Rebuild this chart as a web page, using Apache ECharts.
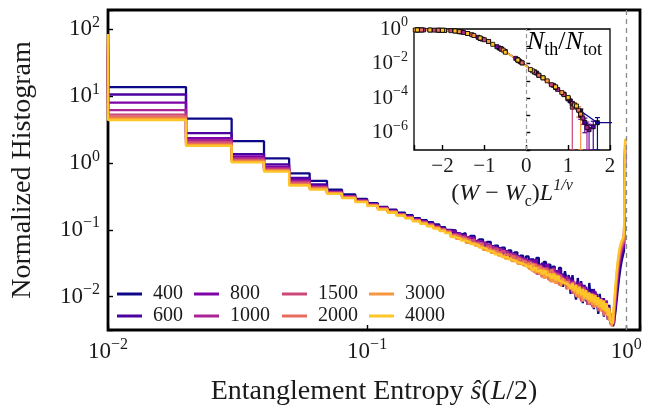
<!DOCTYPE html>
<html>
<head>
<meta charset="utf-8">
<script src="https://cdn.jsdelivr.net/npm/echarts@6/dist/echarts.min.js"></script>
<style>html,body{margin:0;background:#fff}#chart{width:655px;height:411px}</style>
</head>
<body>
<div id="chart"></div>
<script>
// 主图：纠缠熵归一化直方图（100 个等宽 bin，log-log），插图：N_th/N_tot 标度塌缩
const SIZES = ['400', '600', '800', '1000', '1500', '2000', '3000', '4000'];
const COLORS = ['#0d0887', '#4c02a1', '#7e03a8', '#a92395', '#cc4778', '#e66c5c', '#f89540', '#fdc527'];

// bin 右边界 0.01 ... 1.00
const BIN_RIGHT = Array.from({ length: 100 }, (_, i) => (i + 1) / 100);

const H400 = [40, 13.7, 4.6, 2.12, 1.17, 0.70, 0.54,
  .40, .34, .29, .25, .22, .20, .18, .165, .15, .14, .13, .12, .11, .10,
  .098, .084, .089, .074, .081, .066, .072, .060, .066, .052, .058, .049, .054, .044, .049, .039, .046, .036, .041, .033,
  .040, .027, .036, .024, .038, .026, .022, .033, .021, .030, .018, .028, .024, .016, .027, .019, .014, .024, .017, .021,
  .011, .021, .013, .009, .019, .012, .017, .008, .015, .011, .0075, .016, .009, .013, .0065, .012, .0085, .0055, .011, .007, .0095, .005, .0085, .0065, .0045, .0075, .004, .0045,
  .0036, .0045, .0062, .0095, .014, .02, .027, .034, .041, .048, 1.2];
const H600 = [45, 10.6, 2.8, 1.36, 0.95, 0.60, 0.48,
  .38, .32, .28, .245, .215, .195, .175, .16, .145, .135, .125, .115, .105, .098,
  .090, .088, .075, .079, .066, .070, .057, .064, .052, .057, .047, .053, .043, .048, .039, .044, .035, .040, .032, .037,
  .029, .036, .025, .033, .030, .022, .031, .020, .028, .024, .017, .027, .021, .019, .025, .015, .022, .018, .014, .020,
  .018, .012, .016, .010, .017, .013, .009, .015, .011, .014, .008, .012, .010, .0075, .013, .0085, .011, .0065, .0095, .0075, .006, .0095, .0055, .008, .005, .0065, .0048, .0042,
  .0038, .005, .0075, .012, .018, .026, .034, .042, .049, .056, 1.4];
const H800 = [55, 8.0, 2.35, 1.25, 0.88, 0.56, 0.45,
  .37, .32, .275, .24, .215, .19, .172, .158, .143, .133, .123, .113, .104, .097,
  .094, .080, .084, .070, .076, .062, .067, .055, .060, .050, .054, .045, .050, .041, .045, .038, .041, .034, .038, .031,
  .034, .030, .027, .035, .023, .029, .026, .021, .030, .019, .025, .022, .017, .024, .020, .016, .021, .018, .013, .019,
  .015, .018, .011, .016, .013, .010, .016, .011, .014, .0085, .013, .0105, .0075, .012, .009, .0115, .007, .01, .0085, .0065, .0095, .0072, .0058, .0088, .0055, .0068, .005, .0045,
  .004, .0055, .0085, .014, .021, .03, .038, .046, .053, .06, 1.6];
const H1000 = [62, 6.2, 2.2, 1.18, 0.84, 0.53, 0.44,
  .365, .315, .27, .238, .21, .19, .17, .155, .142, .131, .121, .111, .103, .096,
  .086, .085, .074, .076, .064, .068, .056, .062, .050, .055, .046, .051, .042, .047, .038, .043, .035, .039, .031, .036,
  .030, .034, .026, .031, .022, .029, .025, .020, .027, .023, .018, .026, .019, .022, .016, .021, .018, .015, .020, .016,
  .013, .017, .012, .015, .010, .016, .012, .0095, .014, .0105, .012, .008, .011, .0095, .0072, .011, .0085, .0095, .0065, .009, .007, .0058, .0085, .006, .0068, .0048, .0055, .0042,
  .004, .006, .0095, .016, .024, .033, .042, .05, .057, .064, 1.8];
const H1500 = [68, 5.3, 2.05, 1.12, 0.80, 0.51, 0.43,
  .36, .31, .27, .235, .21, .188, .17, .155, .14, .13, .12, .11, .102, .095,
  .084, .080, .078, .068, .072, .060, .064, .053, .058, .048, .052, .044, .048, .040, .043, .036, .040, .033, .036, .030,
  .033, .027, .031, .024, .029, .022, .027, .020, .026, .019, .024, .018, .022, .016, .021, .015, .019, .016, .013, .018,
  .014, .011, .017, .010, .015, .012, .0085, .014, .010, .012, .0075, .011, .0095, .007, .011, .008, .0095, .006, .0088, .0068, .0085, .0055, .0078, .006, .0045, .0065, .0038, .0052,
  .0042, .0065, .011, .018, .027, .037, .046, .054, .061, .068, 1.9];
const H2000 = [74, 4.9, 1.95, 1.08, 0.78, 0.49, 0.42,
  .355, .305, .265, .232, .205, .185, .167, .152, .138, .127, .117, .108, .1, .093,
  .083, .078, .074, .070, .064, .062, .058, .054, .052, .049, .047, .045, .040, .043, .037, .040, .034, .037, .031, .034,
  .029, .032, .025, .030, .023, .028, .020, .026, .022, .018, .025, .017, .021, .019, .015, .020, .016, .018, .013, .017,
  .013, .016, .011, .015, .0095, .014, .011, .0085, .013, .0095, .011, .0075, .010, .0088, .0068, .0098, .0078, .0088, .0062, .0082, .0068, .0052, .0078, .0058, .0065, .0045, .0042, .0036,
  .0045, .007, .012, .02, .03, .04, .05, .058, .065, .072, 2.0];
const H3000 = [80, 4.6, 1.85, 1.05, 0.76, 0.47, 0.41,
  .35, .30, .262, .23, .203, .183, .165, .15, .136, .125, .115, .106, .098, .091,
  .080, .073, .072, .064, .063, .058, .055, .050, .050, .045, .045, .041, .041, .037, .038, .034, .035, .031, .033, .029,
  .031, .026, .030, .023, .027, .022, .025, .019, .024, .020, .017, .022, .016, .020, .018, .014, .019, .015, .017, .013,
  .015, .012, .014, .010, .013, .0095, .013, .0085, .012, .009, .0105, .008, .011, .0075, .0095, .007, .0092, .0068, .0088, .006, .0082, .0062, .0075, .0052, .0068, .0045, .0055, .0036,
  .005, .008, .014, .023, .034, .045, .055, .063, .07, .077, 2.1];
const H4000 = [85, 4.4, 1.80, 1.02, 0.74, 0.46, 0.40,
  .345, .298, .26, .228, .2, .18, .163, .148, .134, .123, .113, .104, .096, .089,
  .078, .074, .069, .066, .061, .059, .054, .052, .048, .047, .043, .043, .039, .039, .036, .035, .033, .032, .031, .030,
  .028, .029, .025, .027, .024, .025, .022, .024, .021, .022, .019, .021, .018, .020, .017, .018, .016, .017, .015, .016,
  .013, .016, .012, .015, .011, .014, .0105, .013, .0095, .0125, .009, .0115, .0085, .011, .008, .0105, .0075, .0098, .007, .0092, .0065, .0088, .006, .008, .0052, .0068, .0042, .0040,
  .0055, .009, .016, .026, .038, .05, .06, .068, .075, .082, 2.25];
const HIST = [H400, H600, H800, H1000, H1500, H2000, H3000, H4000];

// 插图：标度变量 (W-Wc)L^{1/ν}、N_th/N_tot 及误差
const INSET_X = [
  [-2.6, -2.1, -1.6, -1.1, -0.6, -0.1, 0.4, 0.9, 1.3, 1.7, 2.4],
  [-2.5, -2.0, -1.55, -1.1, -0.65, -0.2, 0.25, 0.7, 1.05, 1.4, 1.6],
  [-2.55, -2.05, -1.6, -1.15, -0.7, -0.25, 0.2, 0.65, 1.0, 1.3, 1.5],
  [-2.45, -1.95, -1.5, -1.05, -0.6, -0.15, 0.3, 0.75, 1.1, 1.35, 1.45],
  [-2.6, -2.2, -1.8, -1.4, -1.0, -0.6, -0.2, 0.2, 0.6, 0.9, 1.1],
  [-2.5, -2.1, -1.7, -1.3, -0.9, -0.5, -0.1, 0.3, 0.7, 1.0, 1.25],
  [-2.65, -2.3, -1.95, -1.6, -1.25, -0.9, -0.55, -0.2, 0.15, 0.5, 0.85, 1.15, 1.3],
  [-2.6, -2.3, -2.0, -1.7, -1.4, -1.1, -0.8, -0.5, -0.2, 0.1, 0.4, 0.7, 1.0, 1.2],
];
const INSET_Y = [
  [0.88, 0.85, 0.70, 0.29, 0.072, 0.011, 0.0015, 1.7e-4, 1.8e-5, 3.8e-6, 3.8e-6],
  [0.88, 0.84, 0.68, 0.29, 0.08, 0.016, 0.0028, 4.3e-4, 7e-5, 4e-6, 2.2e-6],
  [0.88, 0.85, 0.71, 0.33, 0.095, 0.02, 0.0033, 5.5e-4, 9e-5, 1e-5, 1.5e-6],
  [0.88, 0.83, 0.63, 0.26, 0.07, 0.013, 0.0021, 3.2e-4, 5e-5, 7e-6, 2e-6],
  [0.88, 0.86, 0.8, 0.55, 0.24, 0.07, 0.016, 0.0032, 6e-4, 1.6e-4, 3e-5],
  [0.88, 0.85, 0.76, 0.47, 0.19, 0.05, 0.011, 0.0021, 4.2e-4, 1e-4, 2e-5],
  [0.88, 0.87, 0.83, 0.71, 0.42, 0.19, 0.06, 0.016, 0.0038, 0.001, 2.1e-4, 4e-5, 1.2e-5],
  [0.88, 0.87, 0.84, 0.77, 0.55, 0.3, 0.13, 0.045, 0.016, 0.0045, 0.0015, 4.5e-4, 1.1e-4, 3.5e-5],
];
const INSET_ERR = [
  [0, 0, 0, 0, 0, 0, 1e-4, 2e-5, 6e-6, 3.7e-6, 0],
  [0, 0, 0, 0, 0, 0, 1e-4, 3e-5, 1.2e-5, 3e-6, 2.4e-6],
  [0, 0, 0, 0, 0, 0, 1e-4, 3e-5, 1.2e-5, 4e-6, 1.6e-6],
  [0, 0, 0, 0, 0, 0, 8e-5, 2.5e-5, 1e-5, 4e-6, 2.1e-6],
  [0, 0, 0, 0, 0, 0, 0, 1e-4, 3e-5, 1.5e-5, 3e-5],
  [0, 0, 0, 0, 0, 0, 0, 8e-5, 2.5e-5, 1.2e-5, 1.2e-5],
  [0, 0, 0, 0, 0, 0, 0, 0, 1e-4, 4e-5, 2e-5, 1.5e-5, 1.2e-5],
  [0, 0, 0, 0, 0, 0, 0, 0, 0, 1e-4, 5e-5, 2.5e-5, 1.2e-5, 1e-5],
];

HIST.forEach((h, k) => { if (h.length !== 100) throw new Error('bad length ' + SIZES[k] + ': ' + h.length); });

const FONT = '"Liberation Serif", "DejaVu Serif", serif';
const INK = '#1a1a1a';
const INSET_MIN = 1e-7;

function powLabel(v, step) {
  const l = Math.log10(v);
  const e = Math.round(l);
  if (Math.abs(l - e) > 1e-6 || e % step !== 0) return '';
  return '{b|10}{s|' + (e < 0 ? '−' + (-e) : String(e)) + '}';
}
function powRich(size) {
  return {
    b: { fontFamily: FONT, fontSize: size, color: INK, verticalAlign: 'middle', lineHeight: size + 6 },
    s: { fontFamily: FONT, fontSize: Math.round(size * 0.68), color: INK, verticalAlign: 'top', lineHeight: Math.round(size * 0.6) },
  };
}
const mathRich = (size) => ({
  r: { fontFamily: FONT, fontSize: size, color: INK, verticalAlign: 'middle', lineHeight: size + 8 },
  i: { fontFamily: FONT, fontSize: size, color: INK, fontStyle: 'italic', verticalAlign: 'middle', lineHeight: size + 8 },
  sb: { fontFamily: FONT, fontSize: Math.round(size * 0.68), color: INK, verticalAlign: 'bottom', lineHeight: size },
  sp: { fontFamily: FONT, fontSize: Math.round(size * 0.68), color: INK, fontStyle: 'italic', verticalAlign: 'top', lineHeight: Math.round(size * 0.6) },
});

const tick = { show: true, inside: true, length: 5, lineStyle: { color: '#000', width: 1.4 } };

const mainSeries = SIZES.map((name, k) => ({
  name, type: 'line', xAxisIndex: 0, yAxisIndex: 0,
  step: 'start', symbol: 'none', clip: true,
  lineStyle: { width: 2.3, color: COLORS[k] },
  itemStyle: { color: COLORS[k] },
  data: BIN_RIGHT.map((x, i) => [x, HIST[k][i]]),
  markLine: k === 0 ? {
    silent: true, symbol: 'none', label: { show: false },
    lineStyle: { color: '#8a8a8a', type: [5, 4], width: 1.3 },
    data: [{ xAxis: 1 }],
  } : undefined,
}));

const insetLines = SIZES.map((name, k) => ({
  name: 'inset ' + name, type: 'line', xAxisIndex: 1, yAxisIndex: 1, z: 5,
  symbol: 'rect', symbolSize: 4, showSymbol: true, clip: true,
  lineStyle: { width: 1.3, color: COLORS[k] },
  itemStyle: { color: COLORS[k], borderColor: '#000', borderWidth: 0.8 },
  data: INSET_X[k].map((x, j) => [x, INSET_Y[k][j]]),
  markLine: k === 0 ? {
    silent: true, symbol: 'none', label: { show: false },
    lineStyle: { color: '#9a9a9a', type: [4, 3], width: 1.2 },
    data: [{ xAxis: 0 }],
  } : undefined,
}));

const insetErrors = SIZES.map((name, k) => {
  const data = [];
  INSET_X[k].forEach((x, j) => {
    const e = INSET_ERR[k][j];
    if (e > 0) data.push([x, Math.max(INSET_Y[k][j] - e, INSET_MIN), INSET_Y[k][j] + e]);
  });
  return {
    name: 'err ' + name, type: 'custom', xAxisIndex: 1, yAxisIndex: 1, z: 4, clip: true,
    encode: { x: 0, y: [1, 2] },
    data,
    renderItem(params, api) {
      const lo = api.coord([api.value(0), api.value(1)]);
      const hi = api.coord([api.value(0), api.value(2)]);
      const w = 2.5;
      const st = { stroke: COLORS[k], lineWidth: 1.2 };
      return {
        type: 'group', children: [
          { type: 'line', shape: { x1: lo[0], y1: lo[1], x2: hi[0], y2: hi[1] }, style: st },
          { type: 'line', shape: { x1: hi[0] - w, y1: hi[1], x2: hi[0] + w, y2: hi[1] }, style: st },
          { type: 'line', shape: { x1: lo[0] - w, y1: lo[1], x2: lo[0] + w, y2: lo[1] }, style: st },
        ],
      };
    },
  };
});

const LEG_LEFT = [117, 194, 282, 369];
const legends = LEG_LEFT.map((left, c) => ({
  data: SIZES.slice(c * 2, c * 2 + 2),
  left, top: 284, orient: 'vertical', padding: 0,
  icon: 'rect', itemWidth: 25, itemHeight: 3, itemGap: 2,
  selectedMode: false,
  textStyle: { fontFamily: FONT, fontSize: 20, lineHeight: 20, color: INK, padding: [0, 0, 0, 6] },
}));

const chart = echarts.init(document.getElementById('chart'), null, { renderer: 'canvas' });
chart.setOption({
  animation: false,
  backgroundColor: '#fff',
  grid: [
    { left: 108, top: 10, width: 532, height: 330, show: true, borderColor: '#000', borderWidth: 2.8 },
    { left: 414, top: 29, width: 196, height: 121, show: true, borderColor: '#000', borderWidth: 1.3, backgroundColor: '#fff', z: 3 },
  ],
  legend: legends,
  xAxis: [
    {
      type: 'log', gridIndex: 0, min: 0.01, max: 1.13, splitNumber: 2,
      axisLine: { show: false }, axisTick: tick, splitLine: { show: false },
      axisLabel: { margin: 7, formatter: v => powLabel(v, 1), rich: powRich(23) },
      name: '{r|Entanglement Entropy }{i|ŝ}{r|(}{i|L}{r|/2)}',
      nameLocation: 'middle', nameGap: 44,
      nameTextStyle: { rich: mathRich(28) },
    },
    {
      type: 'value', gridIndex: 1, min: -2.68, max: 2, z: 3,
      axisLine: { show: false }, axisTick: tick, splitLine: { show: false },
      axisLabel: {
        margin: 6, fontFamily: FONT, fontSize: 21, color: INK,
        formatter: v => Number.isInteger(v) ? String(v).replace('-', '−') : '',
      },
      name: '{r|(}{i|W}{r| − }{i|W}{sb|c}{r|)}{i|L}{sp|1/ν}',
      nameLocation: 'middle', nameGap: 13,
      nameTextStyle: { rich: mathRich(24) },
    },
  ],
  yAxis: [
    {
      type: 'log', gridIndex: 0, min: Math.pow(10, -2.5), max: Math.pow(10, 2.29), splitNumber: 5,
      axisLine: { show: false }, axisTick: tick, splitLine: { show: false },
      axisLabel: { margin: 8, formatter: v => powLabel(v, 1), rich: powRich(23) },
      name: 'Normalized Histogram', nameLocation: 'middle', nameGap: 71,
      nameTextStyle: { fontFamily: FONT, fontSize: 28, color: INK },
    },
    {
      type: 'log', gridIndex: 1, min: INSET_MIN, max: 1, splitNumber: 7, z: 3,
      axisLine: { show: false }, axisTick: { ...tick, length: 4, interval: 0 }, splitLine: { show: false },
      axisLabel: { margin: 6, interval: 0, formatter: v => powLabel(v, 2), rich: powRich(21) },
    },
  ],
  graphic: [{
    type: 'text', left: 527, top: 29, z: 10,
    style: { text: '{i|N}{sb|th}{r|/}{i|N}{sb|tot}', rich: mathRich(26) },
  }],
  series: [...mainSeries, ...insetErrors, ...insetLines],
});
</script>
</body>
</html>
